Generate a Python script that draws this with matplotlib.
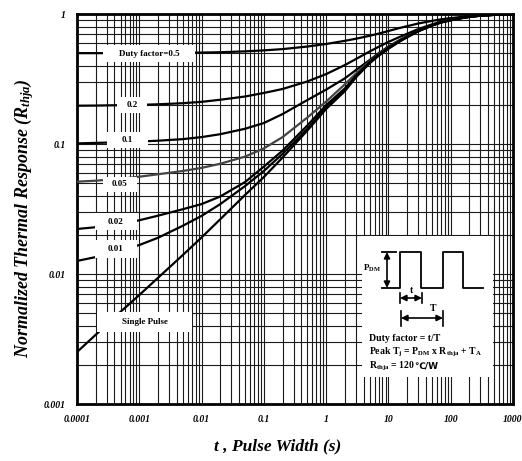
import numpy as np
import matplotlib
matplotlib.use("Agg")
import matplotlib.pyplot as plt
from matplotlib.patches import Rectangle
from matplotlib.ticker import LogLocator, FuncFormatter, NullFormatter

plt.rcParams['font.family'] = ['Liberation Serif', 'DejaVu Sans']
plt.rcParams['font.weight'] = 'bold'
plt.rcParams['mathtext.fontset'] = 'custom'
plt.rcParams['mathtext.rm'] = 'Liberation Serif:bold'
plt.rcParams['mathtext.it'] = 'Liberation Serif:italic:bold'
plt.rcParams['mathtext.bf'] = 'Liberation Serif:bold'

# pulse width (s)
pulse_width = [1e-4, 2e-4, 5e-4, 1e-3, 2e-3, 5e-3, 1e-2, 2e-2, 5e-2, 0.1, 0.2, 0.5,
               1, 2, 3, 5, 7, 10, 15, 20, 30, 50, 70, 100, 150, 200, 300, 500, 1000]

# normalized thermal response per duty factor
resp_single = [0.00251, 0.00341, 0.00512, 0.00689, 0.00935, 0.0140, 0.0191, 0.0264, 0.0406,
               0.0557, 0.0787, 0.127, 0.186, 0.255, 0.325, 0.418, 0.478, 0.54, 0.612,
               0.662, 0.735, 0.815, 0.86, 0.895, 0.93, 0.95, 0.97, 0.985, 0.995]
resp_001 = [0.0126, 0.0135, 0.0152, 0.0167, 0.0190, 0.0235, 0.0280, 0.0345, 0.0475,
            0.062, 0.084, 0.131, 0.191, 0.262, 0.33, 0.423, 0.482, 0.545, 0.616,
            0.665, 0.737, 0.816, 0.861, 0.896, 0.93, 0.951, 0.97, 0.985, 0.995]
resp_002 = [0.0222, 0.0229, 0.0243, 0.0259, 0.0281, 0.0315, 0.0345, 0.0395, 0.051,
            0.067, 0.089, 0.139, 0.199, 0.268, 0.334, 0.427, 0.486, 0.549, 0.619,
            0.668, 0.739, 0.817, 0.862, 0.897, 0.931, 0.952, 0.971, 0.985, 0.995]
resp_005 = [0.0513, 0.0522, 0.0540, 0.0560, 0.0585, 0.0620, 0.0655, 0.0705, 0.080,
            0.0925, 0.113, 0.160, 0.212, 0.288, 0.348, 0.435, 0.493, 0.555, 0.624,
            0.671, 0.741, 0.819, 0.863, 0.898, 0.931, 0.952, 0.971, 0.985, 0.995]
resp_01 = [0.101, 0.102, 0.103, 0.1045, 0.106, 0.109, 0.113, 0.119, 0.131,
           0.145, 0.170, 0.218, 0.262, 0.32, 0.37, 0.443, 0.50, 0.562, 0.63,
           0.677, 0.746, 0.822, 0.865, 0.90, 0.932, 0.953, 0.972, 0.986, 0.996]
resp_02 = [0.197, 0.1975, 0.199, 0.200, 0.202, 0.206, 0.211, 0.219, 0.232,
           0.247, 0.265, 0.303, 0.345, 0.405, 0.45, 0.515, 0.56, 0.61, 0.665,
           0.705, 0.765, 0.832, 0.872, 0.905, 0.935, 0.955, 0.973, 0.986, 0.996]
resp_05 = [0.50, 0.50, 0.50, 0.50, 0.501, 0.503, 0.505, 0.508, 0.516,
           0.525, 0.537, 0.562, 0.588, 0.622, 0.645, 0.68, 0.707, 0.74, 0.78,
           0.806, 0.845, 0.885, 0.91, 0.93, 0.95, 0.963, 0.976, 0.987, 0.997]

curves = [resp_05, resp_02, resp_01, resp_005, resp_002, resp_001, resp_single]
curve_colors = ['k', 'k', 'k', '#444444', 'k', 'k', 'k']

W, H = 522, 461


def fx(x):
    return x / W


def fy(y):
    return 1 - y / H


fig = plt.figure(figsize=(W / 100, H / 100), dpi=100)
ax = fig.add_axes([fx(77), fy(404), (513 - 77) / W, (404 - 14) / H])
ax.set_xscale('log')
ax.set_yscale('log')
ax.set_xlim(1e-4, 1000)
ax.set_ylim(1e-3, 1)

for axis in (ax.xaxis, ax.yaxis):
    axis.set_major_locator(LogLocator(base=10, numticks=20))
    axis.set_minor_locator(LogLocator(base=10, subs=np.arange(2, 10), numticks=100))
    axis.set_minor_formatter(NullFormatter())
    axis.set_major_formatter(FuncFormatter(lambda v, _: f'{v:g}'))

ax.grid(True, which='both', color='#1a1a1a', lw=0.8)
ax.tick_params(which='both', length=0)
ax.tick_params(axis='x', pad=8)
ax.tick_params(axis='y', pad=8)
for lab in ax.get_xticklabels() + ax.get_yticklabels():
    lab.set_fontsize(7)
    lab.set_fontstyle('italic')
    lab.set_fontweight('bold')
for sp in ax.spines.values():
    sp.set_linewidth(2)

for resp, col in zip(curves, curve_colors):
    ax.plot(pulse_width, resp, color=col, lw=1.6, zorder=3)

# white label boxes on the curves (pixel positions)
labels = [
    ("Duty factor=0.5", 103, 195, 45, 62),
    ("0.2", 117, 147, 97, 113),
    ("0.1", 107, 148, 132, 148),
    ("0.05", 103, 137, 177, 192),
    ("0.02", 95, 137, 213, 230),
    ("0.01", 95, 137, 240, 258),
    ("Single Pulse", 97, 192, 312, 332),
]
for txt, x0, x1, y0, y1 in labels:
    ax.add_patch(Rectangle((fx(x0), fy(y1)), (x1 - x0) / W, (y1 - y0) / H,
                           transform=fig.transFigure, facecolor='white',
                           edgecolor='none', zorder=4, clip_on=False))
    ax.text(fx((x0 + x1) / 2), fy((y0 + y1) / 2), txt, transform=fig.transFigure,
            ha='center', va='center', fontsize=6.5, fontweight='bold', zorder=5)

# inset with pulse definition
bx0, bx1, by0, by1 = 362, 493, 236, 377
ax_in = fig.add_axes([fx(bx0), fy(by1), (bx1 - bx0) / W, (by1 - by0) / H])
ax_in.set_xlim(bx0, bx1)
ax_in.set_ylim(by1, by0)
ax_in.set_facecolor('white')
ax_in.set_xticks([])
ax_in.set_yticks([])
for sp in ax_in.spines.values():
    sp.set_visible(False)

wave_x = [382, 400, 400, 421, 421, 443, 443, 463, 463, 483]
wave_y = [288, 288, 252, 252, 288, 288, 252, 252, 288, 288]
ax_in.plot(wave_x, wave_y, color='k', lw=1.3)
ax_in.plot([382, 396], [252, 252], color='k', lw=1.3)

arrow = dict(arrowstyle='<|-|>', color='k', lw=1.2, mutation_scale=9,
             shrinkA=0, shrinkB=0)
ax_in.annotate('', xy=(387, 252), xytext=(387, 288), arrowprops=arrow)
ax_in.annotate('', xy=(400, 298), xytext=(422, 298), arrowprops=arrow)
ax_in.annotate('', xy=(401, 318), xytext=(443, 318), arrowprops=arrow)
for xx, ya, yb in [(400, 293, 303), (422, 293, 303), (401, 311, 326), (443, 311, 326)]:
    ax_in.plot([xx, xx], [ya, yb], color='k', lw=1.2)

ax_in.text(381, 268, r'P$_{\mathrm{DM}}$', ha='right', va='center', fontsize=6.5)
ax_in.text(411, 290, 't', ha='center', va='center', fontsize=7)
ax_in.text(433, 308, 'T', ha='center', va='center', fontsize=7)
ax_in.text(369, 338, 'Duty factor = t/T', ha='left', va='center', fontsize=7)
ax_in.text(369, 352, r'Peak T$_{\mathrm{j}}$ = P$_{\mathrm{DM}}$ x R$_{\mathrm{thja}}$ + T$_{\mathrm{A}}$',
           ha='left', va='center', fontsize=7)
r_txt = ax_in.text(369, 366, r'R$_{\mathrm{thja}}$ = 120', ha='left', va='center', fontsize=7)
renderer = fig.canvas.get_renderer()
bb = r_txt.get_window_extent(renderer)
x_end = ax_in.transData.inverted().transform((bb.x1, bb.y0))[0]
ax_in.text(x_end - 1, 366, '\u2103/W', ha='left', va='center', fontsize=6.5,
           family=['DejaVu Sans'], fontweight='bold')

fig.text(fx(278), fy(446), 't , Pulse Width (s)', ha='center', va='center',
         fontsize=12.5, fontstyle='italic', fontweight='bold')
fig.text(fx(24), fy(218), 'Normalized Thermal Response (R$_{thja}$)', ha='center',
         va='center', rotation=90, fontsize=13, fontstyle='italic', fontweight='bold')

fig.savefig('out.png', dpi=100)
